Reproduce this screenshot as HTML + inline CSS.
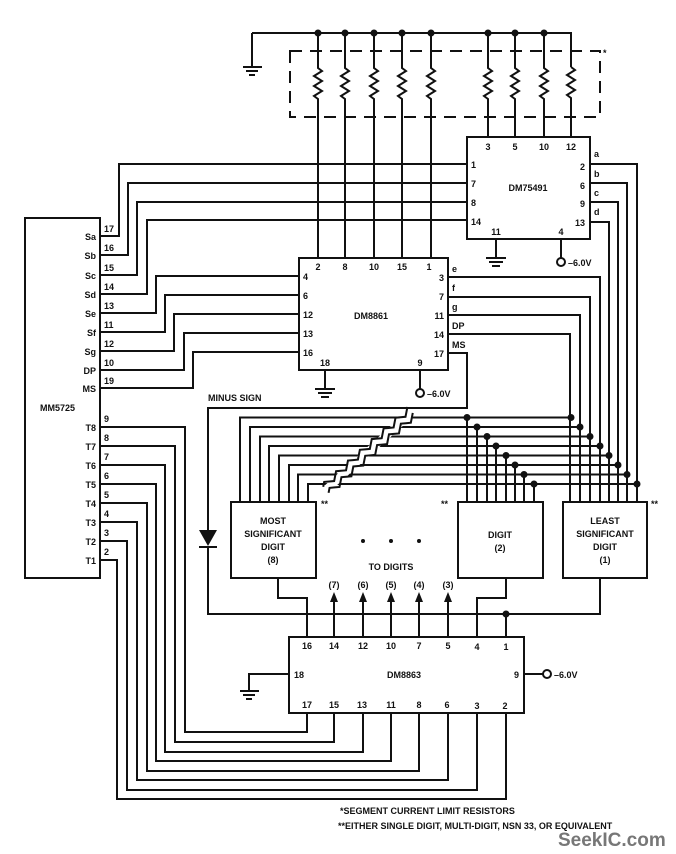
<!DOCTYPE html>
<html><head><meta charset="utf-8"><style>
html,body{margin:0;padding:0;background:#fff;}
svg{display:block;}
text{font-family:"Liberation Sans",sans-serif;font-weight:bold;font-size:9px;fill:#111;}
.s{stroke:#111;stroke-width:2;fill:none;}
</style></head><body>
<svg width="676" height="854" viewBox="0 0 676 854" xmlns="http://www.w3.org/2000/svg">
<g class="s">
<path d="M252 33 H571 V67"/>
<path d="M252 33 V66"/>
<path d="M243 67 H262 M246 71 H258 M249 75 H255"/>
<g>
<path d="M318 33 V68 l4 3 l-8 5 l8 5 l-8 5 l8 5 l-8 5 l4 3 V258"/>
<path d="M345 33 V68 l4 3 l-8 5 l8 5 l-8 5 l8 5 l-8 5 l4 3 V258"/>
<path d="M374 33 V68 l4 3 l-8 5 l8 5 l-8 5 l8 5 l-8 5 l4 3 V258"/>
<path d="M402 33 V68 l4 3 l-8 5 l8 5 l-8 5 l8 5 l-8 5 l4 3 V258"/>
<path d="M431 33 V68 l4 3 l-8 5 l8 5 l-8 5 l8 5 l-8 5 l4 3 V258"/>
<path d="M488 33 V68 l4 3 l-8 5 l8 5 l-8 5 l8 5 l-8 5 l4 3 V137"/>
<path d="M515 33 V68 l4 3 l-8 5 l8 5 l-8 5 l8 5 l-8 5 l4 3 V137"/>
<path d="M544 33 V68 l4 3 l-8 5 l8 5 l-8 5 l8 5 l-8 5 l4 3 V137"/>
<path d="M571 67 l4 3 l-8 5 l8 5 l-8 5 l8 5 l-8 5 l4 3 V137"/>
</g>
<rect x="290" y="51" width="310" height="66" stroke-dasharray="12,8"/>
<rect x="467" y="137" width="123" height="102"/>
<path d="M100 236 H119 V164 H467"/>
<path d="M100 255 H128 V183 H467"/>
<path d="M100 275 H137 V202 H467"/>
<path d="M100 294 H147 V220 H467"/>
<path d="M590 164 H637 V502"/>
<path d="M590 183 H627 V502"/>
<path d="M590 202 H618 V502"/>
<path d="M590 222 H609 V502"/>
<path d="M496 239 V257 M486 258 H506 M489 262 H503 M492 266 H500"/>
<path d="M561 239 V258"/>
<circle cx="561" cy="262" r="4"/>
<rect x="299" y="258" width="149" height="112"/>
<path d="M100 313 H156 V276 H299"/>
<path d="M100 332 H165 V295 H299"/>
<path d="M100 351 H174 V314 H299"/>
<path d="M100 370 H184 V333 H299"/>
<path d="M100 388 H193 V352 H299"/>
<path d="M448 277 H600 V502"/>
<path d="M448 297 H590 V502"/>
<path d="M448 315 H580 V502"/>
<path d="M448 334 H570 V502"/>
<path d="M448 353 H467 V408 H208 V530"/>
<path d="M208 547 V614 H600 V578"/>
<path d="M325 370 V388 M315 389 H335 M318 393 H332 M321 397 H329"/>
<path d="M420 370 V389"/>
<circle cx="420" cy="393" r="4"/>
<rect x="25" y="218" width="75" height="360"/>
<path d="M240 502 V417.5 H467 V502"/>
<path d="M250 502 V427 H477 V502"/>
<path d="M260 502 V436.5 H487 V502"/>
<path d="M269 502 V446 H496 V502"/>
<path d="M279 502 V455.5 H506 V502"/>
<path d="M289 502 V465 H515 V502"/>
<path d="M298 502 V474.5 H524 V502"/>
<path d="M308 502 V484 H534 V502"/>
<path d="M467 417.5 H571 M477 427 H580 M487 436.5 H590 M496 446 H600 M506 455.5 H609 M515 465 H618 M524 474.5 H627 M534 484 H637"/>
<rect x="231" y="502" width="85" height="76"/>
<rect x="458" y="502" width="85" height="76"/>
<rect x="563" y="502" width="84" height="76"/>
<rect x="289" y="637" width="235" height="76"/>
<path d="M307 637 V598 H278 V578"/>
<path d="M477 637 V598 H506 V578"/>
<path d="M506 637 V614"/>
<path d="M334 637 V600 M363 637 V600 M391 637 V600 M419 637 V600 M448 637 V600"/>
<path d="M289 674 H249 V690 M240 691 H259 M243 695 H255 M246 699 H252"/>
<path d="M524 674 H543"/>
<circle cx="547" cy="674" r="4"/>
<path d="M100 427 H185 V732 H307 V713"/>
<path d="M100 446 H175 V742 H334 V713"/>
<path d="M100 465 H165 V752 H363 V713"/>
<path d="M100 484 H156 V761 H391 V713"/>
<path d="M100 503 H147 V771 H419 V713"/>
<path d="M100 522 H137 V780 H448 V713"/>
<path d="M100 541 H127 V790 H477 V713"/>
<path d="M100 560 H117 V799 H506 V713"/>
</g>
<!-- break marks -->
<g transform="translate(369,451) rotate(-42)">
<rect x="-58" y="-4" width="116" height="8" fill="#fff"/>
<path d="M-58 -4 l4 -3 l4 3 l4 3 l4 -3 l4 -3 l4 3 l4 3 l4 -3 l4 -3 l4 3 l4 3 l4 -3 l4 -3 l4 3 l4 3 l4 -3 l4 -3 l4 3 l4 3 l4 -3 l4 -3 l4 3 l4 3 l4 -3 l4 -3 l4 3 l4 3 l4 -3 l4 -3" class="s" stroke-width="1.3"/>
<path d="M-58 4 l4 -3 l4 3 l4 3 l4 -3 l4 -3 l4 3 l4 3 l4 -3 l4 -3 l4 3 l4 3 l4 -3 l4 -3 l4 3 l4 3 l4 -3 l4 -3 l4 3 l4 3 l4 -3 l4 -3 l4 3 l4 3 l4 -3 l4 -3 l4 3 l4 3 l4 -3 l4 -3" class="s" stroke-width="1.3"/>
</g>
<g fill="#111">
<circle cx="318" cy="33" r="3.5"/><circle cx="345" cy="33" r="3.5"/><circle cx="374" cy="33" r="3.5"/><circle cx="402" cy="33" r="3.5"/><circle cx="431" cy="33" r="3.5"/><circle cx="488" cy="33" r="3.5"/><circle cx="515" cy="33" r="3.5"/><circle cx="544" cy="33" r="3.5"/>
<circle cx="467" cy="417.5" r="3.5"/><circle cx="477" cy="427" r="3.5"/><circle cx="487" cy="436.5" r="3.5"/><circle cx="496" cy="446" r="3.5"/><circle cx="506" cy="455.5" r="3.5"/><circle cx="515" cy="465" r="3.5"/><circle cx="524" cy="474.5" r="3.5"/><circle cx="534" cy="484" r="3.5"/>
<circle cx="571" cy="417.5" r="3.5"/><circle cx="580" cy="427" r="3.5"/><circle cx="590" cy="436.5" r="3.5"/><circle cx="600" cy="446" r="3.5"/><circle cx="609" cy="455.5" r="3.5"/><circle cx="618" cy="465" r="3.5"/><circle cx="627" cy="474.5" r="3.5"/><circle cx="637" cy="484" r="3.5"/>
<circle cx="506" cy="614" r="3.5"/>
<circle cx="363" cy="541" r="2"/><circle cx="391" cy="541" r="2"/><circle cx="419" cy="541" r="2"/>
<path d="M199 530 H217 L208 546 Z"/>
<path d="M330 602 L334 592 L338 602 Z M359 602 L363 592 L367 602 Z M387 602 L391 592 L395 602 Z M415 602 L419 592 L423 602 Z M444 602 L448 592 L452 602 Z"/>
</g>
<path d="M199 547 H217" class="s"/>
<text x="603" y="56">*</text>
<g text-anchor="middle">
<text x="488" y="150">3</text><text x="515" y="150">5</text><text x="544" y="150">10</text><text x="571" y="150">12</text>
<text x="528" y="191">DM75491</text>
<text x="318" y="270">2</text><text x="345" y="270">8</text><text x="374" y="270">10</text><text x="402" y="270">15</text><text x="429" y="270">1</text>
<text x="371" y="319">DM8861</text>
<text x="325" y="366">18</text><text x="420" y="366">9</text>
<text x="496" y="235">11</text><text x="561" y="235">4</text>
<text x="273" y="524">MOST</text><text x="273" y="537">SIGNIFICANT</text><text x="273" y="550">DIGIT</text><text x="273" y="563">(8)</text>
<text x="500" y="538">DIGIT</text><text x="500" y="551">(2)</text>
<text x="605" y="524">LEAST</text><text x="605" y="537">SIGNIFICANT</text><text x="605" y="550">DIGIT</text><text x="605" y="563">(1)</text>
<text x="391" y="570">TO DIGITS</text>
<text x="334" y="588">(7)</text><text x="363" y="588">(6)</text><text x="391" y="588">(5)</text><text x="419" y="588">(4)</text><text x="448" y="588">(3)</text>
<text x="307" y="649">16</text><text x="334" y="649">14</text><text x="363" y="649">12</text><text x="391" y="649">10</text><text x="419" y="649">7</text><text x="448" y="649">5</text><text x="477" y="650">4</text><text x="506" y="650">1</text>
<text x="307" y="708">17</text><text x="334" y="708">15</text><text x="362" y="708">13</text><text x="391" y="708">11</text><text x="419" y="708">8</text><text x="447" y="708">6</text><text x="477" y="709">3</text><text x="505" y="709">2</text>
<text x="404" y="678">DM8863</text>
</g>
<text x="471" y="168">1</text><text x="471" y="187">7</text><text x="471" y="206">8</text><text x="471" y="225">14</text>
<g text-anchor="end"><text x="585" y="170">2</text><text x="585" y="189">6</text><text x="585" y="207">9</text><text x="585" y="226">13</text>
<text x="444" y="281">3</text><text x="444" y="300">7</text><text x="444" y="319">11</text><text x="444" y="338">14</text><text x="444" y="357">17</text>
<text x="96" y="240">Sa</text><text x="96" y="259">Sb</text><text x="96" y="279">Sc</text><text x="96" y="298">Sd</text><text x="96" y="317">Se</text><text x="96" y="336">Sf</text><text x="96" y="355">Sg</text><text x="96" y="374">DP</text><text x="96" y="392">MS</text>
<text x="96" y="431">T8</text><text x="96" y="450">T7</text><text x="96" y="469">T6</text><text x="96" y="488">T5</text><text x="96" y="507">T4</text><text x="96" y="526">T3</text><text x="96" y="545">T2</text><text x="96" y="564">T1</text>
</g>
<text x="594" y="157">a</text><text x="594" y="177">b</text><text x="594" y="196">c</text><text x="594" y="215">d</text>
<text x="452" y="272">e</text><text x="452" y="291">f</text><text x="452" y="310">g</text><text x="452" y="329">DP</text><text x="452" y="348">MS</text>
<text x="303" y="280">4</text><text x="303" y="299">6</text><text x="303" y="318">12</text><text x="303" y="337">13</text><text x="303" y="356">16</text>
<text x="104" y="232">17</text><text x="104" y="251">16</text><text x="104" y="271">15</text><text x="104" y="290">14</text><text x="104" y="309">13</text><text x="104" y="328">11</text><text x="104" y="347">12</text><text x="104" y="366">10</text><text x="104" y="384">19</text>
<text x="104" y="422">9</text><text x="104" y="441">8</text><text x="104" y="460">7</text><text x="104" y="479">6</text><text x="104" y="498">5</text><text x="104" y="517">4</text><text x="104" y="536">3</text><text x="104" y="555">2</text>
<text x="40" y="411">MM5725</text>
<text x="208" y="401">MINUS SIGN</text>
<text x="568" y="266">–6.0V</text><text x="427" y="397">–6.0V</text><text x="554" y="678">–6.0V</text>
<text x="294" y="678">18</text><text x="514" y="678">9</text>
<text x="321" y="507">**</text><text x="441" y="507">**</text><text x="651" y="507">**</text>
<text x="340" y="814">*SEGMENT CURRENT LIMIT RESISTORS</text>
<text x="338" y="829">**EITHER SINGLE DIGIT, MULTI-DIGIT, NSN 33, OR EQUIVALENT</text>
<text x="558" y="846" style="font-size:19px;fill:#777">SeekIC.com</text>
</svg>
</body></html>
